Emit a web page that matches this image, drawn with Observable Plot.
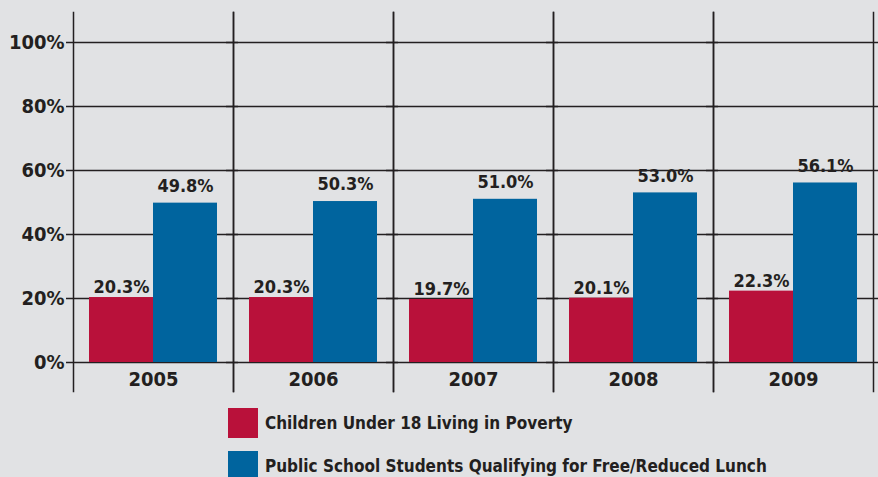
<!DOCTYPE html>
<html>
<head>
<meta charset="utf-8">
<script src="https://cdn.jsdelivr.net/npm/d3@7"></script>
<script src="https://cdn.jsdelivr.net/npm/@observablehq/plot@0.6"></script>
<style>
  html, body { margin: 0; padding: 0; background: #e1e2e4; }
  #wrap { position: relative; width: 878px; height: 477px; overflow: hidden; font-family: "DejaVu Sans Condensed", "DejaVu Sans", sans-serif; color: #231f20; }
  #legend { position: absolute; left: 228px; top: 408px; }
  .item { position: absolute; left: 0; white-space: nowrap; font-weight: bold; font-size: 17px; line-height: 30px; }
  .sw { display: inline-block; width: 30px; height: 30px; vertical-align: top; margin-right: 7px; }
</style>
</head>
<body>
<div id="wrap"><div id="chart"></div><div id="legend"></div></div>
<script>
const years = ["2005", "2006", "2007", "2008", "2009"];
const poverty = [20.3, 20.3, 19.7, 20.1, 22.3];
const lunch = [49.8, 50.3, 51.0, 53.0, 56.1];
const series = ["Children Under 18 Living in Poverty", "Public School Students Qualifying for Free/Reduced Lunch"];
const colors = ["#b9113a", "#00649e"];
const yTicks = [0, 20, 40, 60, 80, 100];

const data = [];
years.forEach((yr, i) => {
  data.push({year: yr, series: series[0], value: poverty[i]});
  data.push({year: yr, series: series[1], value: lunch[i]});
});
const yearRows = years.map(y => ({year: y}));

const chart = Plot.plot({
  width: 878,
  height: 400,
  marginLeft: 73,
  marginRight: 5,
  marginTop: 12,
  marginBottom: 9,
  style: {fontSize: "20px", fontWeight: "bold", fontFamily: "DejaVu Sans Condensed, DejaVu Sans, sans-serif", color: "#231f20", background: "transparent"},
  fx: {domain: years, padding: 0, axis: null},
  x: {domain: series, paddingInner: 0, paddingOuter: 0.25, axis: null},
  y: {domain: [-29 / 3.2, 350 / 3.2], ticks: yTicks, tickFormat: d => d + "%", tickSize: 0, tickPadding: 9, label: null},
  color: {domain: series, range: colors},
  marks: [
    Plot.ruleY(yTicks, {stroke: "#231f20", strokeWidth: 1.5, insetLeft: -7, insetRight: -5}),
    Plot.barY(data, {fx: "year", x: "series", y: "value", fill: "series"}),
    Plot.frame({anchor: "left", stroke: "#231f20", strokeWidth: 1.5}),
    Plot.frame({anchor: "right", stroke: "#231f20", strokeWidth: 1.5}),
    Plot.text(data.filter(d => d.series === series[0]), {fx: "year", x: "series", y: "value", text: d => d.value.toFixed(1) + "%", dy: -10, fontSize: 18, fontWeight: "bold", fill: "#231f20"}),
    Plot.text(data.filter(d => d.series === series[1]), {fx: "year", x: "series", y: "value", text: d => d.value.toFixed(1) + "%", dy: -17, fontSize: 18, fontWeight: "bold", fill: "#231f20"}),
    Plot.text(yearRows, {fx: "year", text: "year", frameAnchor: "bottom", dy: -6, fontSize: 20, fontWeight: "bold", fill: "#231f20"})
  ]
});
document.getElementById("chart").appendChild(chart);

const legend = document.getElementById("legend");
series.forEach((s, i) => {
  const item = document.createElement("div");
  item.className = "item";
  item.style.top = (i * 43) + "px";
  item.innerHTML = `<span class="sw" style="background:${colors[i]}"></span>${s}`;
  legend.appendChild(item);
});
</script>
</body>
</html>
